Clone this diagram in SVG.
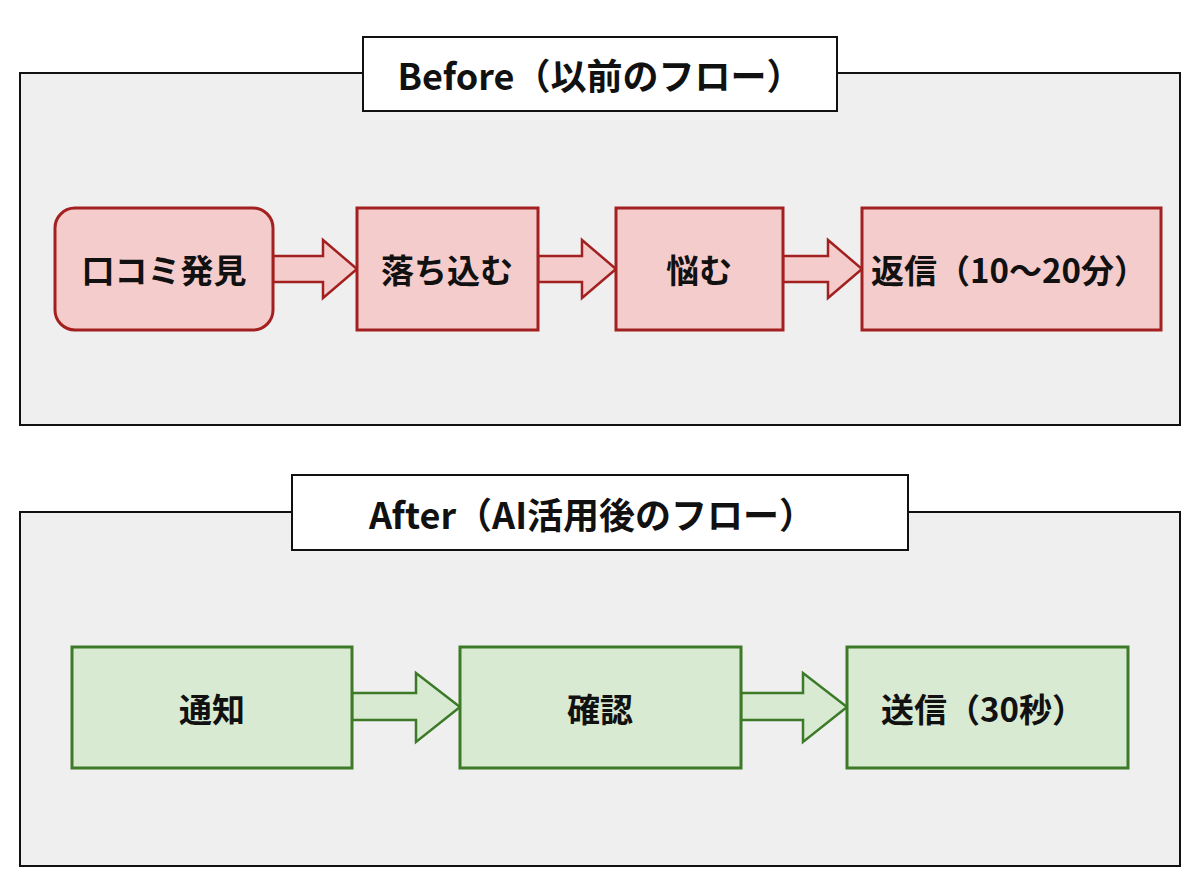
<svg xmlns="http://www.w3.org/2000/svg" width="1200" height="896" viewBox="0 0 1200 896">
<style>
text{font-family:"Noto Sans CJK JP","Liberation Sans",sans-serif;font-weight:bold;fill:#111;text-anchor:middle;dominant-baseline:central}
.panel{fill:#efefef;stroke:#111;stroke-width:2}
.title{fill:#fff;stroke:#111;stroke-width:2}
.r{fill:#f4cccc;stroke:#a32020;stroke-width:3}
.g{fill:#d9ead3;stroke:#3c7a28;stroke-width:3}
.ra{fill:#f4cccc;stroke:#a32020;stroke-width:2.5;stroke-linejoin:miter}
.ga{fill:#d9ead3;stroke:#3c7a28;stroke-width:2.5}
.n{font-size:33px}
.t{font-size:36px}
</style>
<rect width="1200" height="896" fill="#fff"/>
<g id="before">
<rect class="panel" x="20" y="73" width="1160" height="352"/>
<rect class="title" x="363" y="37" width="474" height="74"/>
<text class="t" x="600" y="74">Before（以前のフロー）</text>
</g>
<g id="after">
<rect class="panel" x="20" y="512" width="1160" height="354"/>
<rect class="title" x="292" y="475" width="616" height="75"/>
<text class="t" x="592" y="513">After（AI活用後のフロー）</text>
</g>
<g id="connectors">
<path class="ra" d="M273,256 H323 V240 L357,269 L323,298 V282 H273 Z"/>
<path class="ra" d="M538,256 H582 V240 L616,269 L582,298 V282 H538 Z"/>
<path class="ra" d="M783,256 H828 V240 L862,269 L828,298 V282 H783 Z"/>
<path class="ga" d="M352,693 H416 V673 L460,707 L416,742 V720 H352 Z"/>
<path class="ga" d="M741,693 H803 V673 L847,707 L803,742 V720 H741 Z"/>
</g>
<g id="n1"><rect class="r" x="55" y="208" width="218" height="122" rx="20"/><text class="n" x="164" y="269">口コミ発見</text></g>
<g id="n2"><rect class="r" x="357" y="208" width="181" height="122"/><text class="n" x="447" y="269">落ち込む</text></g>
<g id="n3"><rect class="r" x="616" y="208" width="167" height="122"/><text class="n" x="699" y="269">悩む</text></g>
<g id="n4"><rect class="r" x="862" y="208" width="299" height="122"/><text class="n" x="1009" y="269">返信（10〜20分）</text></g>
<g id="n5"><rect class="g" x="72" y="647" width="280" height="121"/><text class="n" x="212" y="708">通知</text></g>
<g id="n6"><rect class="g" x="460" y="647" width="281" height="121"/><text class="n" x="600" y="708">確認</text></g>
<g id="n7"><rect class="g" x="847" y="647" width="281" height="121"/><text class="n" x="983" y="708">送信（30秒）</text></g>
</svg>
